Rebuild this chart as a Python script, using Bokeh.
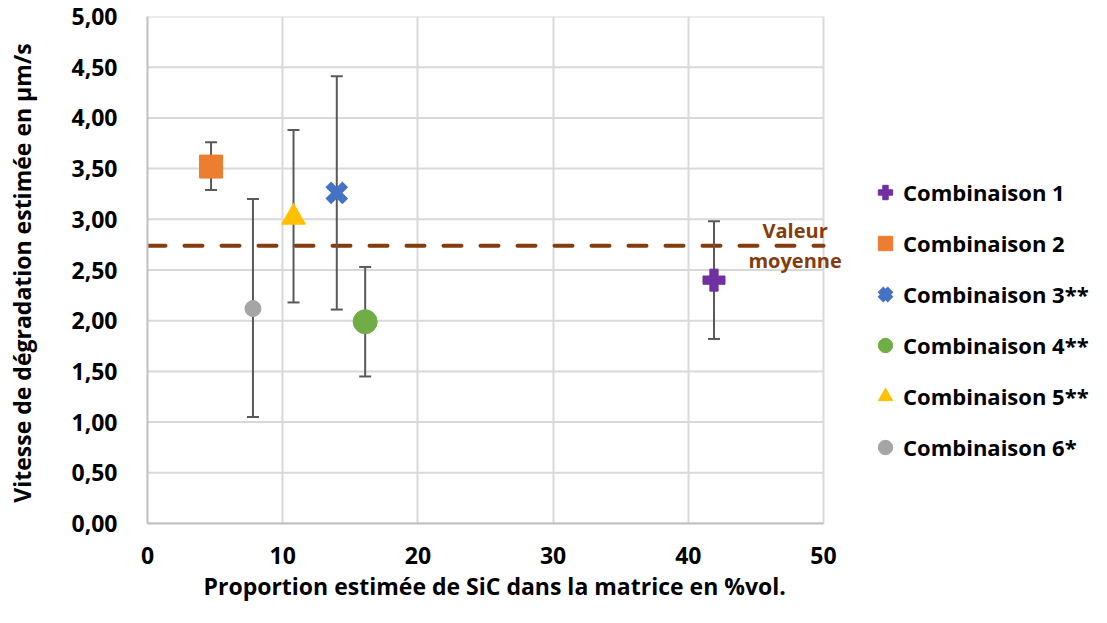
from bokeh.plotting import figure
from bokeh.models import (ColumnDataSource, Label, Legend, LegendItem, Title,
                          CustomJSTickFormatter, FixedTicker, Range1d)
from bokeh.embed import file_html
from bokeh.resources import INLINE

# ---- data ----
names = ["Combinaison 1", "Combinaison 2", "Combinaison 3**", "Combinaison 4**",
         "Combinaison 5**", "Combinaison 6*"]
x_sic = [41.9, 4.7, 14.0, 16.1, 10.8, 7.8]
y_speed = [2.40, 3.52, 3.26, 1.99, 3.02, 2.12]
y_upper = [2.98, 3.76, 4.41, 2.53, 3.88, 3.20]
y_lower = [1.82, 3.29, 2.11, 1.45, 2.18, 1.05]
mean_value = 2.74
x_ticks = [0, 10, 20, 30, 40, 50]
y_ticks = [0, 0.5, 1.0, 1.5, 2.0, 2.5, 3.0, 3.5, 4.0, 4.5, 5.0]
x_max, y_max = 50, 5

markers = ["plus", "square", "x", "circle", "triangle", "circle"]
colors = ["#7030A0", "#ED7D31", "#4472C4", "#70AD47", "#FFC000", "#A5A5A5"]
sizes = [22, 23, 24, 24, 24, 16]

FONT = "Open Sans"
W, H = 1091, 607
LEFT, TOP = 147, 16
PLOT_W, PLOT_H = 676, 507          # visible axes area (0..50, 0..5)
frame_w = W - LEFT
x_end = x_max * frame_w / PLOT_W   # frame extends to the right to hold legend/labels

p = figure(width=W, height=H, output_backend="svg", toolbar_location=None,
           x_range=Range1d(0, x_end), y_range=Range1d(0, y_max),
           min_border_left=LEFT, min_border_right=0, min_border_top=TOP,
           min_border_bottom=H - TOP - PLOT_H)
p.outline_line_color = None

# grid: vertical via grid, horizontal via segments limited to 0..50
p.xgrid.ticker = FixedTicker(ticks=x_ticks)
p.xgrid.grid_line_color = "#D9D9D9"
p.xgrid.grid_line_width = 2
p.ygrid.grid_line_color = None
hsrc = ColumnDataSource(dict(y=y_ticks, x0=[0] * len(y_ticks), x1=[x_max] * len(y_ticks)))
p.segment(x0="x0", x1="x1", y0="y", y1="y", source=hsrc, line_color="#D9D9D9",
          line_width=2, level="underlay")

# axes
for ax in (p.xaxis[0], p.yaxis[0]):
    ax.axis_line_color = "#BFBFBF"
    ax.axis_line_width = 2
    ax.major_tick_line_color = None
    ax.minor_tick_line_color = None
    ax.major_label_text_font = FONT
    ax.major_label_text_font_style = "bold"
    ax.major_label_text_font_size = "23px"
    ax.major_label_text_color = "#000000"
    ax.axis_label_text_font = FONT
    ax.axis_label_text_font_style = "bold"
    ax.axis_label_text_color = "#000000"

p.xaxis.bounds = (0, x_max)
p.xaxis.ticker = FixedTicker(ticks=x_ticks)
p.yaxis.ticker = FixedTicker(ticks=y_ticks)
p.yaxis.formatter = CustomJSTickFormatter(code="return tick.toFixed(2).replace('.', ',');")
p.xaxis.major_label_standoff = 17
p.yaxis.major_label_standoff = 24
p.yaxis.axis_label = "Vitesse de dégradation estimée  en µm/s"
p.yaxis.axis_label_text_font_size = "23px"
p.yaxis.axis_label_standoff = 30

# x axis title, placed under the visible 0..50 axis
xt = Title(text="Proportion estimée de SiC dans la matrice en %vol.", align="left",
           offset=56, standoff=3,
           text_font=FONT, text_font_style="bold", text_font_size="23px",
           text_color="#000000")
p.add_layout(xt, "below")

# mean line
msrc = ColumnDataSource(dict(x0=[0], x1=[x_max], y=[mean_value]))
p.segment(x0="x0", x1="x1", y0="y", y1="y", source=msrc, line_color="#843C0C",
          line_width=4, line_dash="18 19", line_cap="round")
lab_x = x_max - 2.1
p.add_layout(Label(x=lab_x, y=mean_value + 0.15, text="Valeur", text_align="center",
                   text_baseline="middle", text_font=FONT, text_font_style="bold",
                   text_font_size="20px", text_color="#843C0C"))
p.add_layout(Label(x=lab_x, y=mean_value - 0.15, text="moyenne", text_align="center",
                   text_baseline="middle", text_font=FONT, text_font_style="bold",
                   text_font_size="20px", text_color="#843C0C"))

# error bars
src = ColumnDataSource(dict(x=x_sic, y=y_speed, up=y_upper, lo=y_lower))
p.segment(x0="x", x1="x", y0="lo", y1="up", source=src, line_color="#595959", line_width=2)
p.scatter("x", "up", source=src, marker="dash", size=12, line_color="#595959", line_width=2)
p.scatter("x", "lo", source=src, marker="dash", size=12, line_color="#595959", line_width=2)

items = []
for i in range(len(names)):
    s = ColumnDataSource(dict(x=[x_sic[i]], y=[y_speed[i]]))
    if markers[i] == "x":
        r = p.scatter("x", "y", source=s, marker="x", size=sizes[i], line_color=colors[i],
                      line_width=8)
    else:
        r = p.scatter("x", "y", source=s, marker=markers[i], size=sizes[i],
                      fill_color=colors[i], line_color=colors[i])
    items.append(LegendItem(label=names[i], renderers=[r]))

legend = Legend(items=items, location=(720, 58), background_fill_alpha=0,
                border_line_color=None, label_text_font=FONT, label_text_font_style="bold",
                label_text_font_size="22px", label_text_color="#000000",
                spacing=15, glyph_width=36, glyph_height=36, label_standoff=0,
                padding=0, margin=0)
p.add_layout(legend)

open("out.html", "w").write(file_html(p, INLINE))
